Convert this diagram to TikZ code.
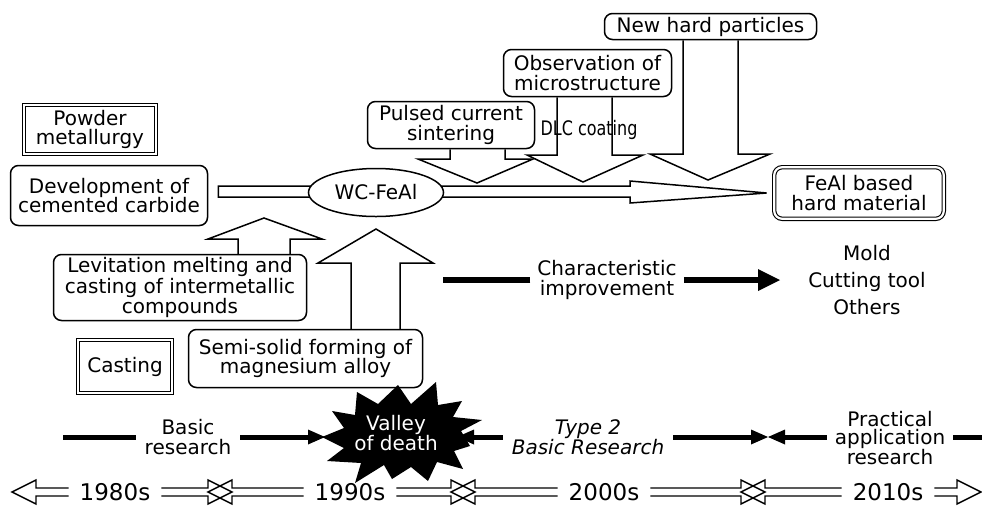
\documentclass[tikz,border=0pt]{standalone}
\usepackage{fontspec}
\setmainfont{DejaVu Sans}
\usetikzlibrary{arrows.meta,calc,shapes.geometric}
\begin{document}
\begin{tikzpicture}[x=1pt,y=-1pt,
  base/.style={font=\fontsize{20}{19.5}\selectfont, align=center, inner sep=0pt},
  rbox/.style={base, draw, line width=1.5pt, rounded corners=8pt},
  dbox/.style={base, draw, line width=1.1pt, double=white, double distance=2.2pt},
  blk/.style={line width=1.5pt, line join=miter},
  rline/.style={line width=5pt},
  rtip/.style={-{Triangle[length=17pt,width=15pt,line width=0pt]}},
  dec/.style={line width=1.4pt, line join=miter},
  decade/.style={font=\fontsize{23}{23}\selectfont, inner sep=0pt}
]
\useasboundingbox (0,0) rectangle (982,507);

% ---- boxes ----
\node[dbox, minimum width=131.6pt, minimum height=48.6pt] (pm) at (90,129.5) {Powder\\metallurgy};
\node[rbox, minimum width=197pt, minimum height=60pt] (dev) at (109,195.5) {Development of\\cemented carbide};
\node[rbox, font=\fontsize{20}{19}\selectfont, minimum width=253pt, minimum height=66pt] (lev) at (180,287.5) {Levitation melting and\\casting of intermetallic\\compounds};
\node[rbox, minimum width=234pt, minimum height=58pt] (semi) at (305.5,358.5) {Semi-solid forming of\\magnesium alloy};
\node[dbox, minimum width=93.6pt, minimum height=52.6pt] (cast) at (125,366.5) {Casting};
\node[rbox, minimum width=167pt, minimum height=47pt] (pcs) at (451,125) {Pulsed current\\sintering};
\node[rbox, minimum width=168pt, minimum height=47pt] (obs) at (587.5,73) {Observation of\\microstructure};
\node[rbox, minimum width=212pt, minimum height=26pt] (nhp) at (710.5,26.5) {New hard particles};
\node[dbox, rounded corners=8pt, minimum width=169.6pt, minimum height=51.6pt] (feal) at (859,193) {FeAl based\\hard material};

% ---- main horizontal hollow arrow ----
\coordinate (tipF) at ($(feal.west)+(-7,0)$);
\draw[blk, fill=white] ($(dev.east)+(10,-9.5)$) -- (630,186) -- (630,181) -- (tipF)
  -- (630,203) -- (630,197) -- ($(dev.east)+(10,1.5)$) -- cycle;
\node[draw, ellipse, line width=1.5pt, fill=white, minimum width=135pt, minimum height=48pt, inner sep=0pt,
  font=\fontsize{20}{18}\selectfont] (wc) at (376,192.5) {WC-FeAl};

% ---- up arrows ----
\draw[blk] (238,0 |- lev.north) -- (238,239) -- (208,239) -- (264,218) -- (322,239) -- (290,239) -- (290,0 |- lev.north);
\draw[blk] (351,0 |- semi.north) -- (351,263) -- (318,263) -- (376,229) -- (433,263) -- (400,263) -- (400,0 |- semi.north);

% ---- down arrows ----
\draw[blk] (450,0 |- pcs.south) -- (450,159) -- (418,159) -- (477,183) -- (533,159) -- (505,159) -- (505,0 |- pcs.south);
\draw[blk] (557,0 |- obs.south) -- (557,155) -- (527,155) -- (583,182) -- (643,155) -- (612,155) -- (612,0 |- obs.south);
\draw[blk] (683,0 |- nhp.south) -- (683,154) -- (650,154) -- (708,180) -- (770,154) -- (738,154) -- (738,0 |- nhp.south);
\node[base] (dlc) at (589,130) {\scalebox{0.8}[1]{DLC coating}};

% ---- characteristic improvement ----
\node[base, font=\fontsize{20}{20}\selectfont, inner xsep=7pt] (ci) at (607,280) {Characteristic\\improvement};
\coordinate (ciL) at (443,280);
\coordinate (ciR) at (780,280);
\draw[line width=6pt] (ci.west) -- (ciL);
\draw[line width=6pt, -{Triangle[length=22pt,width=22pt,line width=0pt]}] (ci.east) -- (ciR);
\node[base, font=\fontsize{20}{27}\selectfont] (apps) at (867,280) {Mold\\Cutting tool\\Others};

% ---- valley of death ----
\fill[black] (398,385) -- (411,404) -- (436,382) -- (438,405) -- (462,401) -- (453,417) -- (482,420)
  -- (461,431) -- (470,446) -- (454,451) -- (463,469) -- (437,462) -- (428,481) -- (411,467)
  -- (392,479) -- (384,465) -- (355,483) -- (361,463) -- (327,461) -- (344,448) -- (322,437)
  -- (344,428) -- (332,411) -- (355,415) -- (357,392) -- (378,404) -- cycle;
\node[base, text=white] (vod) at (396,433) {Valley\\of death};
\coordinate (vodL) at (325,437);
\coordinate (vodR) at (457,437);

% ---- research row ----
\node[base, inner xsep=9pt] (br) at (188,437) {Basic\\research};
\coordinate (brL) at (63,437);
\draw[rline] (br.west) -- (brL);
\draw[rline, rtip] (br.east) -- (vodL);
\node[base, font=\fontsize{20}{19.5}\selectfont\itshape, inner xsep=9pt] (t2) at (588,437) {Type 2\\Basic Research};
\draw[rline, rtip] (t2.west) -- (vodR);
\coordinate (mid) at (768,437);
\draw[rline, rtip] (t2.east) -- (mid);
\node[base, font=\fontsize{20}{18.5}\selectfont, inner xsep=8pt] (par) at (890,438) {Practical\\application\\research};
\draw[rline, rtip] (par.west |- mid) -- (mid);
\coordinate (parR) at (982,437);
\draw[rline] (par.east |- parR) -- (parR);

% ---- decades ----
\node[decade] (d80) at (115,492) {1980s};
\node[decade] (d90) at (350,492) {1990s};
\node[decade] (d00) at (604,492) {2000s};
\node[decade] (d10) at (888,492) {2010s};
\coordinate (b0) at (24,492);
\coordinate (b1) at (220,492);
\coordinate (b2) at (463,492);
\coordinate (b3) at (753,492);
\coordinate (b4) at (969,492);
\newcommand\decright[2]{\draw[dec] ($(#1.east)+(11,-4)$) -- ($(#2)+(-12,-4)$) -- ($(#2)+(-12,-12)$) -- ($(#2)+(12,0)$) -- ($(#2)+(-12,12)$) -- ($(#2)+(-12,4)$) -- ($(#1.east)+(11,4)$);}
\newcommand\decleft[2]{\draw[dec] ($(#1.west)+(-11,-4)$) -- ($(#2)+(12,-4)$) -- ($(#2)+(12,-12)$) -- ($(#2)+(-12,0)$) -- ($(#2)+(12,12)$) -- ($(#2)+(12,4)$) -- ($(#1.west)+(-11,4)$);}
\decleft{d80}{b0}
\decright{d80}{b1}
\decleft{d90}{b1}
\decright{d90}{b2}
\decleft{d00}{b2}
\decright{d00}{b3}
\decleft{d10}{b3}
\decright{d10}{b4}
\end{tikzpicture}
\end{document}
